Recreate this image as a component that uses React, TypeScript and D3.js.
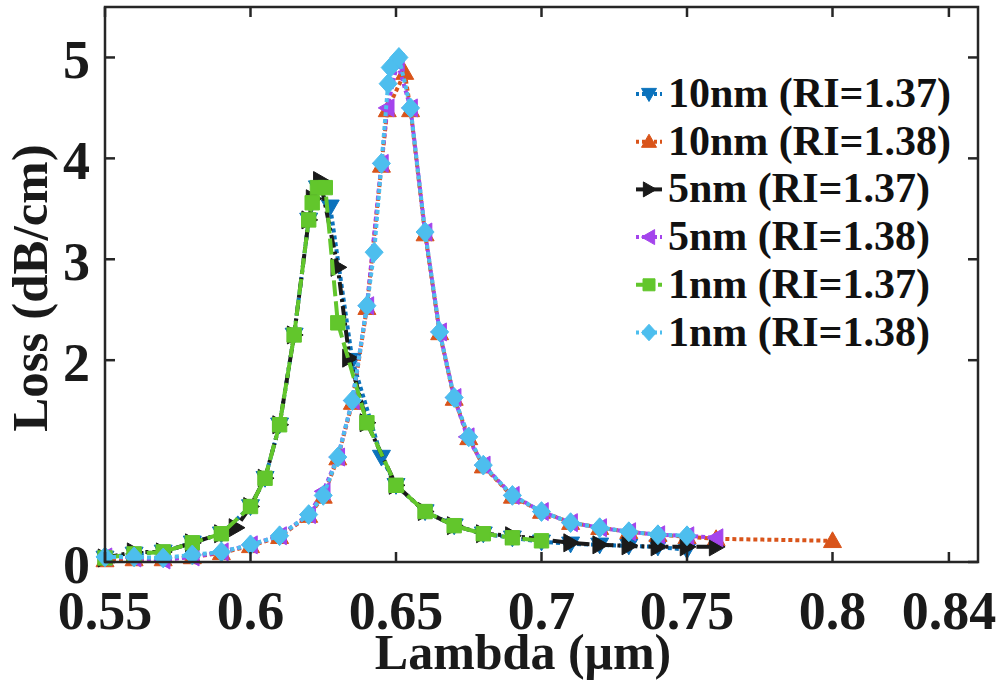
import React from "react";
import * as d3 from "d3";

// ---------- data ----------
const xTicks = [0.55, 0.6, 0.65, 0.7, 0.75, 0.8, 0.84];
const xTickLabels = ["0.55", "0.6", "0.65", "0.7", "0.75", "0.8", "0.84"];
const yTicks = [0, 2, 3, 4, 5];
const yTickLabels = ["0", "2", "3", "4", "5"];

const seriesNames = [
  "10nm (RI=1.37)",
  "10nm (RI=1.38)",
  "5nm (RI=1.37)",
  "5nm (RI=1.38)",
  "1nm (RI=1.37)",
  "1nm (RI=1.38)",
];

const nm10_137: [number, number][] = [
  [0.55, 0.04], [0.56, 0.08], [0.57, 0.1], [0.58, 0.19], [0.59, 0.28], [0.6, 0.55],
  [0.605, 0.83], [0.61, 1.36], [0.615, 2.25], [0.62, 3.39], [0.623, 3.71], [0.6274, 3.52],
  [0.635, 2.0], [0.645, 1.04], [0.65, 0.76], [0.66, 0.5], [0.67, 0.36], [0.68, 0.28],
  [0.69, 0.24], [0.7, 0.2], [0.71, 0.18], [0.72, 0.17], [0.73, 0.16], [0.74, 0.15], [0.75, 0.12],
];
const nm10_138: [number, number][] = [
  [0.55, 0.02], [0.56, 0.03], [0.57, 0.03], [0.58, 0.05], [0.59, 0.09], [0.6, 0.16],
  [0.61, 0.25], [0.62, 0.46], [0.625, 0.65], [0.63, 1.03], [0.635, 1.58], [0.64, 2.52],
  [0.645, 3.93], [0.647, 4.48], [0.653, 4.85], [0.655, 4.48], [0.66, 3.25], [0.665, 2.27],
  [0.67, 1.62], [0.675, 1.23], [0.68, 0.95], [0.69, 0.65], [0.7, 0.5], [0.71, 0.39],
  [0.72, 0.34], [0.73, 0.3], [0.74, 0.27], [0.75, 0.25], [0.76, 0.23], [0.8, 0.21],
];
const nm5_137: [number, number][] = [
  [0.55, 0.04], [0.56, 0.1], [0.57, 0.1], [0.58, 0.19], [0.59, 0.28], [0.595, 0.34],
  [0.6, 0.55], [0.605, 0.83], [0.61, 1.36], [0.615, 2.25], [0.62, 3.39], [0.6215, 3.6],
  [0.624, 3.78], [0.63, 2.92], [0.634, 2.02], [0.64, 1.38], [0.65, 0.76], [0.66, 0.5],
  [0.67, 0.36], [0.68, 0.28], [0.69, 0.26], [0.71, 0.19], [0.72, 0.17], [0.73, 0.16],
  [0.74, 0.15], [0.75, 0.15], [0.76, 0.15],
];
const nm5_138: [number, number][] = [
  [0.55, 0.05], [0.56, 0.04], [0.57, 0.02], [0.58, 0.05], [0.59, 0.1], [0.6, 0.17],
  [0.61, 0.26], [0.62, 0.47], [0.625, 0.7], [0.63, 1.04], [0.635, 1.6], [0.64, 2.54],
  [0.645, 3.95], [0.647, 4.5], [0.6505, 4.95], [0.655, 4.5], [0.66, 3.27], [0.665, 2.28],
  [0.67, 1.63], [0.6745, 1.24], [0.68, 0.96], [0.69, 0.66], [0.7, 0.5], [0.71, 0.39],
  [0.72, 0.34], [0.73, 0.3], [0.74, 0.27], [0.75, 0.26], [0.76, 0.24],
];
const nm1_137: [number, number][] = [
  [0.55, 0.04], [0.56, 0.08], [0.57, 0.1], [0.58, 0.19], [0.59, 0.28], [0.6, 0.55],
  [0.605, 0.83], [0.61, 1.36], [0.615, 2.25], [0.62, 3.39], [0.6212, 3.56], [0.623, 3.71],
  [0.6257, 3.71], [0.63, 2.37], [0.64, 1.38], [0.65, 0.76], [0.66, 0.5], [0.67, 0.36],
  [0.68, 0.28], [0.69, 0.24], [0.7, 0.21],
];
const nm1_138: [number, number][] = [
  [0.55, 0.05], [0.56, 0.05], [0.57, 0.04], [0.58, 0.07], [0.59, 0.1], [0.6, 0.17],
  [0.61, 0.26], [0.62, 0.47], [0.625, 0.66], [0.63, 1.04], [0.635, 1.6], [0.64, 2.54],
  [0.6425, 3.07], [0.645, 3.95], [0.6473, 4.74], [0.648, 4.9], [0.651, 5.0], [0.655, 4.5],
  [0.66, 3.27], [0.665, 2.28], [0.67, 1.63], [0.675, 1.24], [0.68, 0.96], [0.69, 0.66],
  [0.7, 0.5], [0.71, 0.39], [0.72, 0.34], [0.73, 0.3], [0.74, 0.27], [0.75, 0.26],
];

const seriesData = [nm10_137, nm10_138, nm5_137, nm5_138, nm1_137, nm1_138];
const seriesColors = ["#0B72BC", "#D9541A", "#1A1A1A", "#A444EC", "#62C62C", "#4DBEEE"];
const seriesMarkers = ["down", "up", "right", "left", "square", "diamond"];
const seriesDash = ["4,3", "4,3", "13,4,3,4", "4,3", "16,5", "4,3"];

// ---------- layout ----------
const W = 1001;
const H = 686;
const L = 105, R = 978, T = 7, B = 562;
const FONT = "'Liberation Serif', 'Times New Roman', serif";

function markerPath(type: string, r: number): string {
  switch (type) {
    case "down":
      return `M${-r},${-r * 0.75}L${r},${-r * 0.75}L0,${r}Z`;
    case "up":
      return `M${-r},${r * 0.75}L${r},${r * 0.75}L0,${-r}Z`;
    case "right":
      return `M${-r * 0.75},${-r}L${-r * 0.75},${r}L${r},0Z`;
    case "left":
      return `M${r * 0.75},${-r}L${r * 0.75},${r}L${-r},0Z`;
    case "square": {
      const s = r * 0.8;
      return `M${-s},${-s}L${s},${-s}L${s},${s}L${-s},${s}Z`;
    }
    case "diamond":
    default:
      return `M0,${-r * 1.1}L${r},0L0,${r * 1.1}L${-r},0Z`;
  }
}

export default function App() {
  const x = d3.scaleLinear().domain([0.55, 0.85]).range([L, R]);
  const y = d3.scaleLinear().domain([0, 5.5]).range([B, T]);
  const line = d3
    .line<[number, number]>()
    .x((d) => x(d[0]))
    .y((d) => y(d[1]));

  const axisColor = "#262626";
  const tickLen = 10;

  const legendX = 649;
  const legendY0 = 107;
  const legendDy = 47.7;

  return (
    <svg
      width={W}
      height={H}
      style={{ position: "absolute", left: 0, top: 0, background: "#fff" }}
      fontFamily={FONT}
    >
      <rect x={0} y={0} width={W} height={H} fill="#fff" />

      {/* series */}
      {seriesData.map((data, i) => (
        <g key={i}>
          <path
            d={line(data) || ""}
            fill="none"
            stroke={seriesColors[i]}
            strokeWidth={4}
            strokeDasharray={seriesDash[i]}
          />
          {data.map((d, j) => (
            <path
              key={j}
              d={markerPath(seriesMarkers[i], 9)}
              transform={`translate(${x(d[0])},${y(d[1])})`}
              fill={seriesColors[i]}
              stroke={seriesColors[i]}
              strokeWidth={1}
            />
          ))}
        </g>
      ))}

      {/* axes box */}
      <rect x={L} y={T} width={R - L} height={B - T} fill="none" stroke={axisColor} strokeWidth={2.5} />

      {/* x ticks */}
      {xTicks.map((t, i) => (
        <g key={"xt" + i}>
          <line x1={x(t)} x2={x(t)} y1={B} y2={B - tickLen} stroke={axisColor} strokeWidth={2.5} />
          <line x1={x(t)} x2={x(t)} y1={T} y2={T + tickLen} stroke={axisColor} strokeWidth={2.5} />
          <text
            x={x(t)}
            y={629}
            textAnchor="middle"
            fontSize={54}
            fontWeight="bold"
            fill="#1a1a1a"
          >
            {xTickLabels[i]}
          </text>
        </g>
      ))}

      {/* y ticks */}
      {yTicks.map((t, i) => (
        <g key={"yt" + i}>
          <line x1={L} x2={L + tickLen} y1={y(t)} y2={y(t)} stroke={axisColor} strokeWidth={2.5} />
          <line x1={R} x2={R - tickLen} y1={y(t)} y2={y(t)} stroke={axisColor} strokeWidth={2.5} />
          <text
            x={90}
            y={y(t) + 21}
            textAnchor="end"
            fontSize={54}
            fontWeight="bold"
            fill="#1a1a1a"
          >
            {yTickLabels[i]}
          </text>
        </g>
      ))}

      {/* axis labels */}
      <text x={523} y={669} textAnchor="middle" fontSize={50} fontWeight="bold" fill="#1a1a1a">
        Lambda (μm)
      </text>
      <text
        transform={`translate(47,288) rotate(-90)`}
        textAnchor="middle"
        fontSize={51}
        fontWeight="bold"
        fill="#1a1a1a"
      >
        Loss (dB/cm)
      </text>

      {/* legend */}
      {seriesNames.map((name, i) => {
        const cy = legendY0 + i * legendDy - 13;
        return (
          <g key={"lg" + i}>
            <line
              x1={legendX - 13}
              x2={legendX + 13}
              y1={cy}
              y2={cy}
              stroke={seriesColors[i]}
              strokeWidth={4}
              strokeDasharray={seriesDash[i] === "4,3" ? "3,3" : seriesDash[i] === "16,5" ? "8,3" : "none"}
            />
            <path
              d={markerPath(seriesMarkers[i], 7.5)}
              transform={`translate(${legendX},${cy})`}
              fill={seriesColors[i]}
              stroke={seriesColors[i]}
            />
            <text
              x={668}
              y={legendY0 + i * legendDy}
              fontSize={42}
              fontWeight="bold"
              fill="#111"
            >
              {name}
            </text>
          </g>
        );
      })}
    </svg>
  );
}
